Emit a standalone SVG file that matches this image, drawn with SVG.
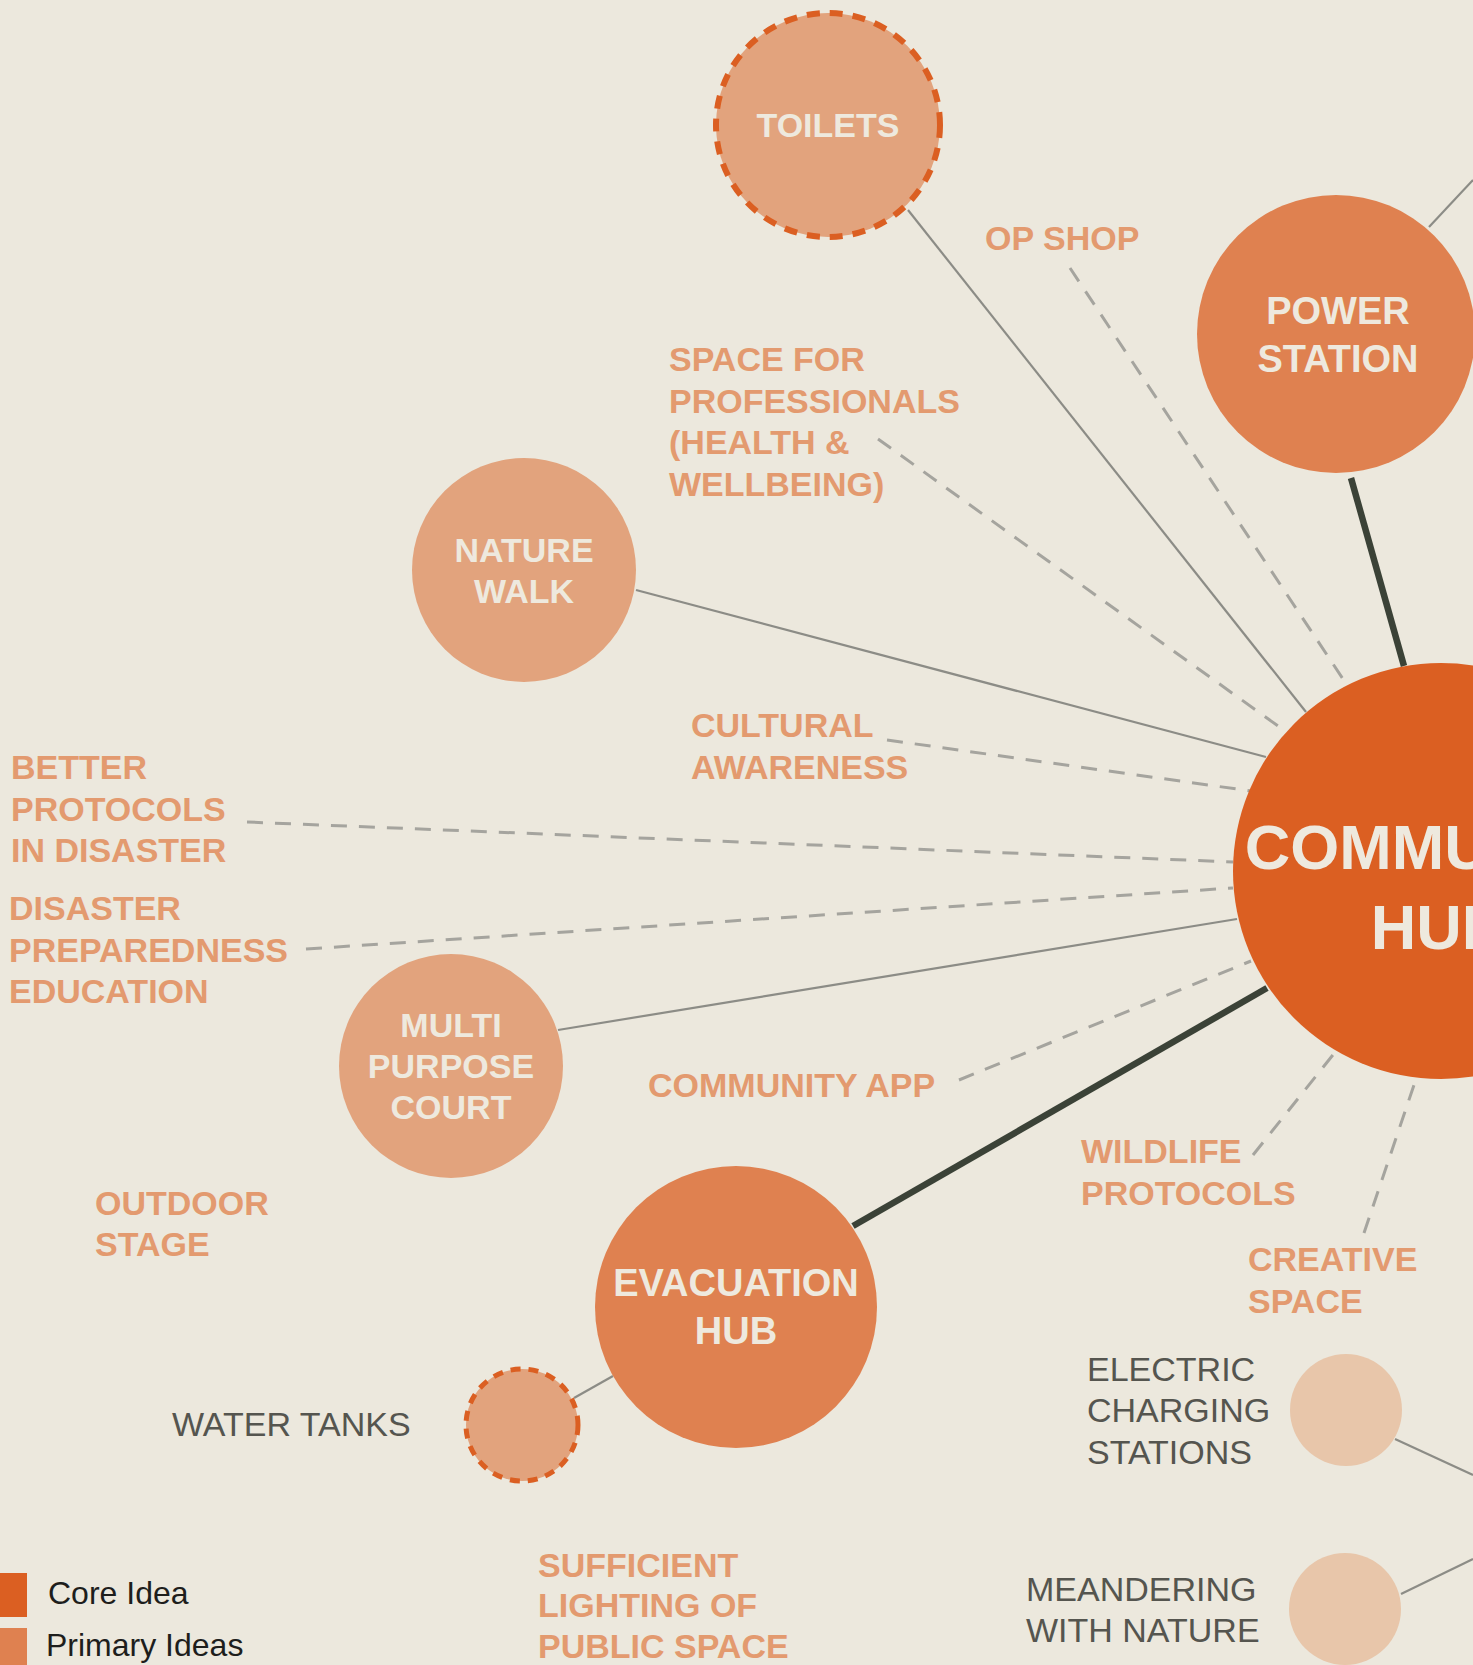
<svg xmlns="http://www.w3.org/2000/svg" width="1473" height="1665" viewBox="0 0 1473 1665">
<style>
.bg{fill:#ECE8DD}
.core{fill:#DB5F22}
.sec{fill:#DF8150}
.pri{fill:#E2A37D}
.ter{fill:#E8C6AA}
.dashring{stroke:#DB5F22;stroke-width:6;stroke-dasharray:13 10}
.ntext{font-family:"Liberation Sans",Arial,sans-serif;font-weight:bold;fill:#EEE9DE;text-anchor:middle}
.lbl{font-family:"Liberation Sans",Arial,sans-serif;font-weight:bold;font-size:34px;fill:#E39A6F}
.glbl{font-family:"Liberation Sans",Arial,sans-serif;font-size:34px;fill:#55554F}
.leg{font-family:"Liberation Sans",Arial,sans-serif;font-size:32px;fill:#1E1E1C}
.solid{stroke:#8C8C86;stroke-width:2.2;fill:none}
.dash{stroke:#A5A49E;stroke-width:3;stroke-dasharray:16 12;fill:none}
.thick{stroke:#3B4237;stroke-width:6.5;fill:none}
</style>
<rect class="bg" x="0" y="0" width="1473" height="1665"/>
<g id="connectors">
<line class="solid" x1="908" y1="210" x2="1306" y2="712"/>
<line class="solid" x1="1429" y1="227" x2="1473" y2="180"/>
<line class="thick" x1="1351" y1="478" x2="1404" y2="666"/>
<line class="dash" x1="1070" y1="268" x2="1347" y2="685"/>
<line class="dash" x1="878" y1="439" x2="1285" y2="731"/>
<line class="solid" x1="636" y1="590" x2="1266" y2="757"/>
<line class="dash" x1="887" y1="740" x2="1251" y2="791"/>
<line class="dash" x1="247" y1="822" x2="1233" y2="862"/>
<line class="dash" x1="306" y1="949" x2="1233" y2="888"/>
<line class="solid" x1="558" y1="1030" x2="1237" y2="919"/>
<line class="dash" x1="959" y1="1080" x2="1251" y2="961"/>
<line class="thick" x1="853" y1="1226" x2="1267" y2="988"/>
<line class="solid" x1="574" y1="1398" x2="613" y2="1376"/>
<line class="dash" x1="1253" y1="1155" x2="1336" y2="1051"/>
<line class="dash" x1="1364" y1="1233" x2="1416" y2="1079"/>
<line class="solid" x1="1395" y1="1439" x2="1473" y2="1475"/>
<line class="solid" x1="1401" y1="1594" x2="1473" y2="1559"/>
</g>
<g id="community-hub">
<circle class="core" cx="1441" cy="871" r="208"/>
<text class="ntext" x="1439" y="869" font-size="63">COMMUNITY</text>
<text class="ntext" x="1439" y="949" font-size="63">HUB</text>
</g>
<g id="power-station">
<circle class="sec" cx="1336" cy="334" r="139"/>
<text class="ntext" x="1338" y="324" font-size="38">POWER</text>
<text class="ntext" x="1338" y="372" font-size="38">STATION</text>
</g>
<g id="toilets">
<circle class="pri dashring" cx="828" cy="125" r="112"/>
<text class="ntext" x="828" y="137" font-size="34">TOILETS</text>
</g>
<g id="nature-walk">
<circle class="pri" cx="524" cy="570" r="112"/>
<text class="ntext" x="524" y="562" font-size="34">NATURE</text>
<text class="ntext" x="524" y="603" font-size="34">WALK</text>
</g>
<g id="multi-purpose-court">
<circle class="pri" cx="451" cy="1066" r="112"/>
<text class="ntext" x="451" y="1037" font-size="34">MULTI</text>
<text class="ntext" x="451" y="1078" font-size="34">PURPOSE</text>
<text class="ntext" x="451" y="1119" font-size="34">COURT</text>
</g>
<g id="evacuation-hub">
<circle class="sec" cx="736" cy="1307" r="141"/>
<text class="ntext" x="736" y="1296" font-size="38">EVACUATION</text>
<text class="ntext" x="736" y="1344" font-size="38">HUB</text>
</g>
<g id="water-tanks">
<circle class="pri" cx="522" cy="1425" r="56" stroke="#DB5F22" stroke-width="5" stroke-dasharray="10 8"/>
<text class="glbl" x="172" y="1436">WATER TANKS</text>
</g>
<g id="electric-charging">
<circle class="ter" cx="1346" cy="1410" r="56"/>
<text class="glbl" x="1087" y="1381">ELECTRIC</text>
<text class="glbl" x="1087" y="1422">CHARGING</text>
<text class="glbl" x="1087" y="1464">STATIONS</text>
</g>
<g id="meandering">
<circle class="ter" cx="1345" cy="1609" r="56"/>
<text class="glbl" x="1026" y="1601">MEANDERING</text>
<text class="glbl" x="1026" y="1642">WITH NATURE</text>
</g>
<g id="op-shop"><text class="lbl" x="985" y="250">OP SHOP</text></g>
<g id="space-for-professionals">
<text class="lbl" x="669" y="371">SPACE FOR</text>
<text class="lbl" x="669" y="413">PROFESSIONALS</text>
<text class="lbl" x="669" y="454">(HEALTH &amp;</text>
<text class="lbl" x="669" y="496">WELLBEING)</text>
</g>
<g id="cultural-awareness">
<text class="lbl" x="691" y="737">CULTURAL</text>
<text class="lbl" x="691" y="779">AWARENESS</text>
</g>
<g id="better-protocols">
<text class="lbl" x="11" y="779">BETTER</text>
<text class="lbl" x="11" y="821">PROTOCOLS</text>
<text class="lbl" x="11" y="862">IN DISASTER</text>
</g>
<g id="disaster-preparedness">
<text class="lbl" x="9" y="920">DISASTER</text>
<text class="lbl" x="9" y="962">PREPAREDNESS</text>
<text class="lbl" x="9" y="1003">EDUCATION</text>
</g>
<g id="community-app"><text class="lbl" x="648" y="1097">COMMUNITY APP</text></g>
<g id="outdoor-stage">
<text class="lbl" x="95" y="1215">OUTDOOR</text>
<text class="lbl" x="95" y="1256">STAGE</text>
</g>
<g id="wildlife-protocols">
<text class="lbl" x="1081" y="1163">WILDLIFE</text>
<text class="lbl" x="1081" y="1205">PROTOCOLS</text>
</g>
<g id="creative-space">
<text class="lbl" x="1248" y="1271">CREATIVE</text>
<text class="lbl" x="1248" y="1313">SPACE</text>
</g>
<g id="sufficient-lighting">
<text class="lbl" x="538" y="1577">SUFFICIENT</text>
<text class="lbl" x="538" y="1617">LIGHTING OF</text>
<text class="lbl" x="538" y="1658">PUBLIC SPACE</text>
</g>
<g id="legend">
<rect class="core" x="0" y="1573" width="27" height="44"/>
<rect class="sec" x="0" y="1628" width="27" height="44"/>
<text class="leg" x="48" y="1604">Core Idea</text>
<text class="leg" x="46" y="1656">Primary Ideas</text>
</g>
</svg>
